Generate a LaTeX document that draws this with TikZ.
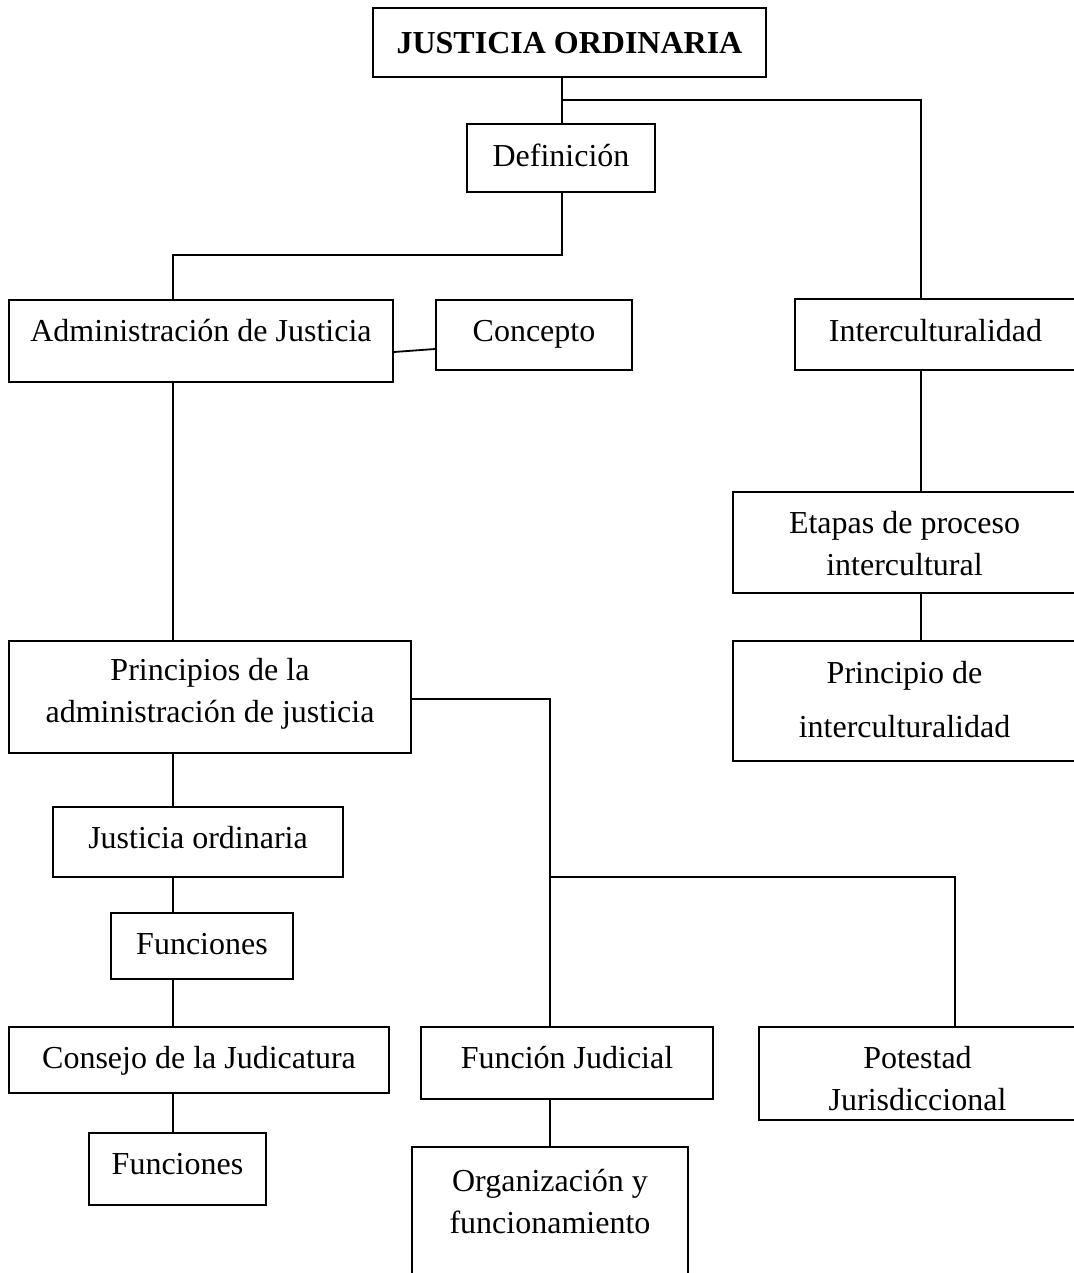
\documentclass[tikz,border=0pt]{standalone}
\usepackage{fontspec}
\setmainfont{Liberation Serif}
\begin{document}
\begin{tikzpicture}[x=0.5pt, y=-0.5pt, line width=0.9pt,
    caja/.style={draw, inner sep=0pt, align=center,
      font=\fontsize{16}{21}\selectfont, text height=11.5pt},
    sube/.style={text depth=#1},
    alto/.style={text height=#1}]
\useasboundingbox (0,0) rectangle (1073,1273);

% Define node positions
\node[caja, sube=0.4pt, minimum width=196.5pt, minimum height=34.5pt] (jo) at (569.5,42.5) {\bfseries JUSTICIA ORDINARIA};
\node[caja, sube=2.9pt, minimum width=94pt, minimum height=34pt] (def) at (561,158) {Definición};
\node[caja, sube=11.4pt, minimum width=192pt, minimum height=41pt] (adm) at (201,341) {Administración de Justicia};
\node[caja, sube=5.4pt, minimum width=98pt, minimum height=35pt] (con) at (534,335) {Concepto};
\node[caja, sube=4.4pt, minimum width=140.5pt, minimum height=35.5pt] (int) at (935.5,334.5) {Interculturalidad};
\node[caja, sube=0pt, alto=33.1pt, minimum width=171.5pt, minimum height=50.5pt] (eta) at (904.5,542.5) {Etapas de proceso\\intercultural};
\node[caja, sube=1.9pt, alto=38.5pt, minimum width=171.5pt, minimum height=60pt] (pin) at (904.5,701) {Principio de\\[6pt]interculturalidad};
\node[caja, sube=5.9pt, alto=31.75pt, minimum width=201pt, minimum height=56pt] (pri) at (210,697) {Principios de la\\administración de justicia};
\node[caja, sube=4.9pt, minimum width=145pt, minimum height=35pt] (jor) at (198,842) {Justicia ordinaria};
\node[caja, sube=2.9pt, minimum width=91pt, minimum height=33pt] (fun1) at (202,946) {Funciones};
\node[caja, sube=2.9pt, minimum width=190pt, minimum height=33pt] (cjd) at (199,1060) {Consejo de la Judicatura};
\node[caja, sube=5.9pt, minimum width=88.5pt, minimum height=36pt] (fun2) at (177.5,1169) {Funciones};
\node[caja, sube=5.9pt, minimum width=146pt, minimum height=36pt] (fj) at (567,1063) {Función Judicial};
\node[caja, sube=22.4pt, alto=32.5pt, minimum width=138pt, minimum height=76.5pt] (org) at (550,1223.5) {Organización y\\funcionamiento};
\node[caja, sube=0pt, alto=37.35pt, minimum width=158.5pt, minimum height=46.5pt] (pot) at (917.5,1073.5) {Potestad\\Jurisdiccional};

% Branch points
\coordinate (j1) at (562,100);
\coordinate (k1) at (921,100);
\coordinate (j2) at (173,255);
\coordinate (j3) at (550,877);
\coordinate (k3) at (955,877);

% Draw connectors
\draw (jo.south -| j1) -- (def.north -| j1);
\draw (j1) -- (k1) -- (int.north -| k1);
\draw (def.south -| j1) |- (j2) -- (adm.north -| j2);
\draw ([yshift=-5.5pt]adm.east) -- ([yshift=-7pt]con.west);
\draw (adm.south -| j2) -- (pri.north -| j2);
\draw (pri.south -| j2) -- (jor.north -| j2);
\draw (jor.south -| j2) -- (fun1.north -| j2);
\draw (fun1.south -| j2) -- (cjd.north -| j2);
\draw (cjd.south -| j2) -- (fun2.north -| j2);
\draw ([yshift=-1pt]pri.east) -| (j3) -- (fj.north -| j3);
\draw (j3) -- (k3) -- (pot.north -| k3);
\draw (fj.south -| j3) -- (org.north);
\draw (int.south -| k1) -- (eta.north -| k1);
\draw (eta.south -| k1) -- (pin.north -| k1);
\end{tikzpicture}
\end{document}
